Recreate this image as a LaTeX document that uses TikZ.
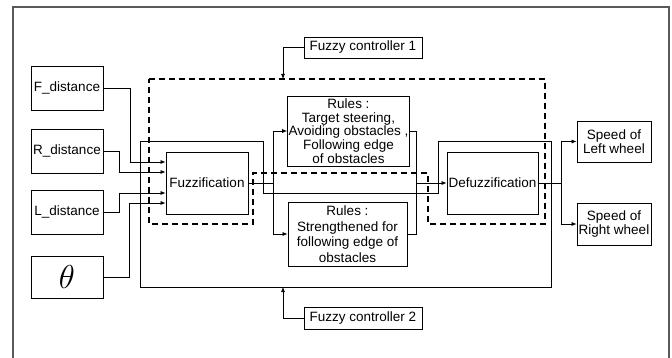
\documentclass[tikz,border=0pt]{standalone}
\usepackage{fontspec}
\setmainfont{Liberation Sans}
\usetikzlibrary{arrows.meta,calc}
\begin{document}
\begin{tikzpicture}[x=1pt,y=-1pt,
  every node/.style={font=\fontsize{13.5}{14.5}\selectfont},
  blk/.style={draw=black, line width=0.8pt, align=center, inner sep=1pt, minimum width=#1},
  blk/.default=72pt,
  conn/.style={draw=black, line width=0.7pt},
  arr/.style={conn, -{Latex[length=5pt,width=4pt]}},
  dashbox/.style={draw=black, line width=1.6pt, dash pattern=on 6pt off 4pt},
  solidbox/.style={draw=black, line width=0.9pt},
  frame/.style={draw=black!65, line width=1.3pt}]
\useasboundingbox (0,0) rectangle (672,358);
\fill[white] (0,0) rectangle (672,358);
\draw[frame] (13,358) -- (13,7) -- (669,7) -- (669,358);

% controller regions
\draw[dashbox] (149,79) -- (545,79) -- (545,224) -- (428,224) -- (428,173) -- (253,173) -- (253,224) -- (149,224) -- cycle;
\draw[solidbox] (140,141) -- (263,141) -- (263,193) -- (438,193) -- (438,141) -- (551,141) -- (551,287) -- (140,287) -- cycle;

% inputs
\node[blk, minimum height=44pt] (F) at (67,88) {F\_distance};
\node[blk, minimum height=44pt] (R) at (67,151) {R\_distance};
\node[blk, minimum height=44pt] (L) at (67,212) {L\_distance};
\node[blk, minimum height=42pt, inner sep=0pt] (T) at (67,277) {\scalebox{2.3}{$\theta$}};

% main blocks
\node[blk=82pt, minimum height=62pt] (fuzz) at (207,183) {Fuzzification};
\node[blk=91pt, minimum height=62pt] (defuzz) at (492.5,183) {Defuzzification};
\node[blk=119pt, minimum height=70pt, font=\fontsize{13.5}{13.7}\selectfont] (r1) at (348.5,131) {Rules :\\Target steering,\\Avoiding obstacles ,\\Following edge\\of obstacles};
\node[blk=119pt, minimum height=64pt, font=\fontsize{13.5}{15.5}\selectfont] (r2) at (347.5,234) {Rules :\\Strengthened for\\following edge of\\obstacles};

% labels
\node[blk=118pt, minimum height=21pt] (fc1) at (363,47.5) {Fuzzy controller 1};
\node[blk=118pt, minimum height=22pt] (fc2) at (363,318) {Fuzzy controller 2};
\coordinate (d1) at (283,79);
\coordinate (d2) at (283,287);
\draw[arr] (fc1.west) -| (d1);
\draw[arr] (fc2.west) -| (d2);

% outputs
\node[blk=74pt, minimum height=41pt] (lw) at (614,141.5) {Speed of\\Left wheel};
\node[blk=74pt, minimum height=42pt] (rw) at (614,224) {Speed of\\Right wheel};

% input connectors
\coordinate (i1) at ($(fuzz.west)+(0,-21)$);
\coordinate (i2) at ($(fuzz.west)+(0,-11)$);
\coordinate (i3) at ($(fuzz.west)+(0,10)$);
\coordinate (i4) at ($(fuzz.west)+(0,20)$);
\draw[arr] (F.east) -- ++(27,0) |- (i1);
\draw[arr] (R.east) -- ++(16,0) |- (i2);
\draw[arr] (L.east) -- ++(16,0) |- (i3);
\draw[arr] (T.east) -- ++(26,0) |- (i4);

% fuzz to rules
\coordinate (fs) at ($(fuzz.east)+(25,0)$);
\draw[conn] (fuzz.east) -- (fs);
\draw[arr] (fs) |- (r1.west);
\draw[arr] (fs) |- (r2.west);

% rules to defuzz
\coordinate (rj) at ($(defuzz.west)+(-30,0)$);
\draw[conn] (r1.east) -| (rj);
\draw[conn] (r2.east) -| (rj);
\draw[arr] (rj) -- (defuzz.west);

% defuzz to outputs
\coordinate (ds) at ($(defuzz.east)+(23,0)$);
\draw[conn] (defuzz.east) -- (ds);
\draw[arr] (ds) |- (lw.west);
\draw[arr] (ds) |- (rw.west);
\end{tikzpicture}
\end{document}
